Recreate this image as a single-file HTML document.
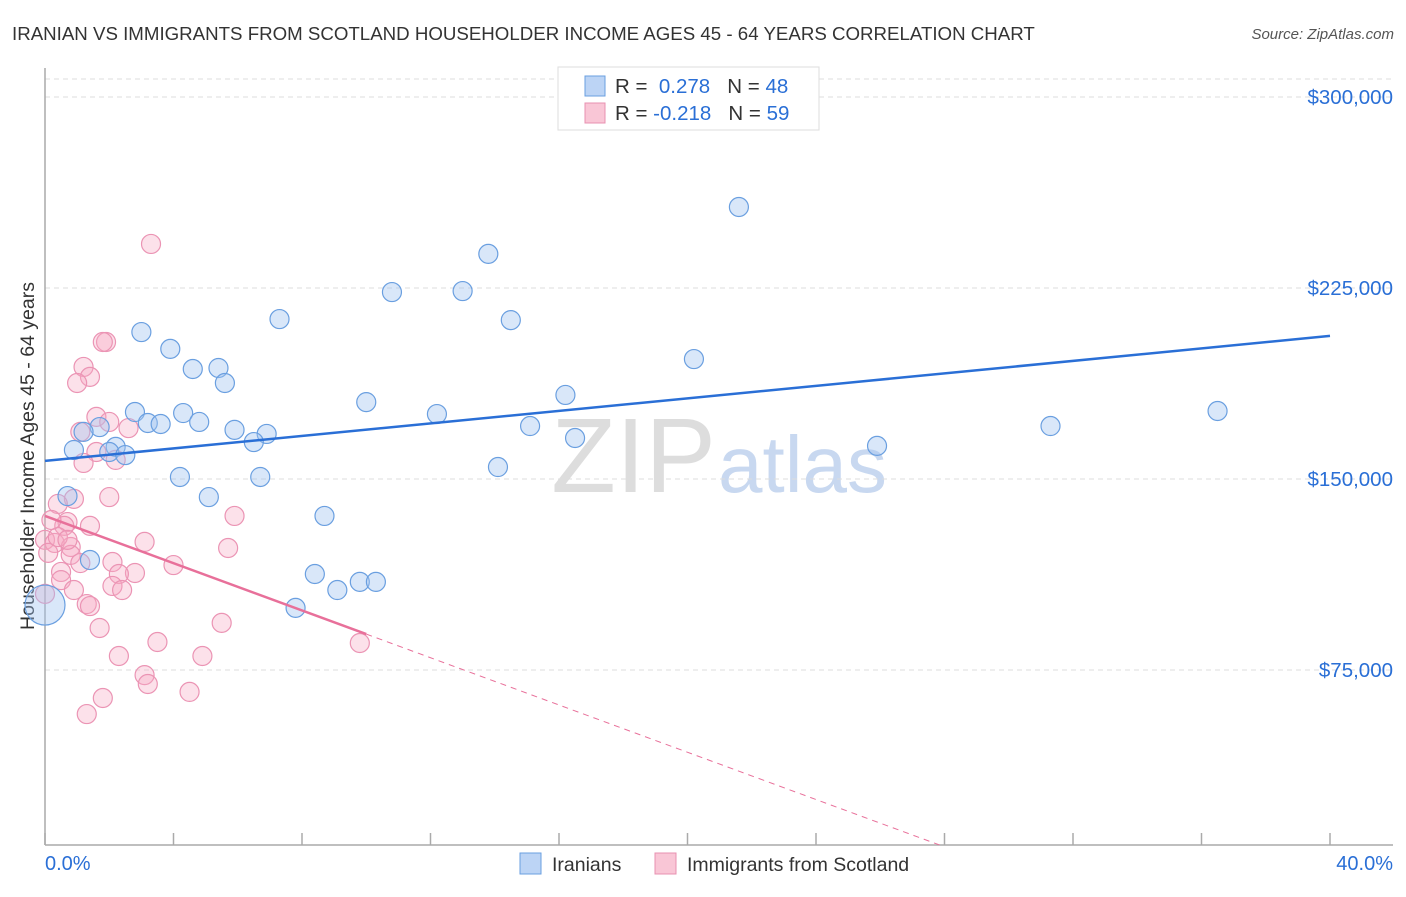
<!DOCTYPE html>
<html><head><meta charset="utf-8"><style>
body{margin:0;background:#fff;font-family:"Liberation Sans",sans-serif;}
svg text{font-family:"Liberation Sans",sans-serif;}
</style></head><body>
<svg id="chart" width="1406" height="892" xmlns="http://www.w3.org/2000/svg">
<text x="12" y="40" font-size="18.7" fill="#333">IRANIAN VS IMMIGRANTS FROM SCOTLAND HOUSEHOLDER INCOME AGES 45 - 64 YEARS CORRELATION CHART</text>
<text x="1394" y="39" font-size="15" fill="#555" font-style="italic" text-anchor="end">Source: ZipAtlas.com</text>
<text x="716" y="492" font-size="106" fill="#ddd" text-anchor="end" font-family="Liberation Serif">ZIP</text>
<text x="718" y="492" font-size="80" fill="#c8d8f0">atlas</text>
<text transform="translate(34,456) rotate(-90)" font-size="19.5" fill="#333" text-anchor="middle">Householder Income Ages 45 - 64 years</text>
<g id="grid"></g><g id="marks"></g>
<g>
<rect x="558" y="67" width="261" height="63" fill="#fff" stroke="#ddd"/>
<rect x="585" y="76" width="20" height="20" fill="#bcd4f5" stroke="#6a9fe0"/>
<text x="615" y="93" font-size="20.5" fill="#333">R = <tspan fill="#2a6fd6">&#160;0.278</tspan>&#160;&#160;&#160;N = <tspan fill="#2a6fd6">48</tspan></text>
<rect x="585" y="103" width="20" height="20" fill="#f9c6d6" stroke="#e890b0"/>
<text x="615" y="120" font-size="20.5" fill="#333">R = <tspan fill="#2a6fd6">-0.218</tspan>&#160;&#160;&#160;N = <tspan fill="#2a6fd6">59</tspan></text>
</g>
<g>
<rect x="520" y="853" width="21" height="21" fill="#bcd4f5" stroke="#6a9fe0"/>
<text x="552" y="871" font-size="19.5" fill="#333">Iranians</text>
<rect x="655" y="853" width="21" height="21" fill="#f9c6d6" stroke="#e890b0"/>
<text x="687" y="871" font-size="19.5" fill="#333">Immigrants from Scotland</text>
</g>
</svg>
<script>
const yTicks=[75000,150000,225000,300000];
const yTickLabels=["$75,000","$150,000","$225,000","$300,000"];
const xLabels=["0.0%","40.0%"];
const blueX=[21.6,13.8,10.8,13.0,7.3,14.5,3.0,3.9,20.2,4.6,5.4,5.6,10.0,2.8,4.3,12.2,36.5,16.2,3.2,3.6,4.8,1.7,15.1,31.3,5.9,1.2,6.9,16.5,6.5,2.2,25.9,0.9,2.0,2.5,14.1,4.2,6.7,5.1,0.7,8.7,1.4,8.4,9.8,10.3,9.1,7.8,0.0];
const blueY=[256800,238400,223400,223800,212800,212400,207700,201100,197100,193200,193600,187700,180200,176300,175900,175500,176700,183000,172000,171600,172400,170400,170800,170800,169300,168500,167700,166100,164500,162600,163000,161400,160600,159400,154700,150800,150800,142900,143300,135500,118200,112700,109600,109600,106400,99400,100500];
const pinkX=[3.3,1.9,1.8,1.2,1.4,1.0,1.6,2.0,1.1,2.6,1.6,2.2,1.2,2.0,0.9,0.4,5.9,0.7,1.4,0.6,0.0,0.3,3.1,5.7,0.8,0.1,0.8,2.1,1.1,4.0,0.5,2.8,2.3,0.5,2.1,2.4,0.9,1.3,1.4,5.5,1.7,3.5,9.8,2.3,4.9,3.1,3.2,4.5,1.8,1.3,0.0,0.4,0.7,0.2];
const pinkY=[242300,203800,203800,194000,190100,187700,174400,172400,168500,170000,160600,157500,156300,142900,142200,140200,135500,133100,131600,131600,126100,124900,125300,122900,123300,121000,120200,117400,117000,116200,113500,113100,112700,110300,108000,106400,106400,100900,100100,93500,91500,86000,85600,80500,80500,73000,69500,66400,64000,57700,104900,127200,126100,133900];
const blueTrend=[157100,206200];
const pinkTrend=[135500,-4640];
const NS="http://www.w3.org/2000/svg";
const xs=v=>45+v/40*1285;
const ys=v=>861-v/75000*191;
function mk(t,a,p){const e=document.createElementNS(NS,t);for(const k in a)e.setAttribute(k,a[k]);p.appendChild(e);return e;}
const g=document.getElementById('grid'),m=document.getElementById('marks');
let e=mk('line',{x1:45,y1:79,x2:1393,y2:79,stroke:'#ddd','stroke-dasharray':'5,4'},g);


yTicks.forEach((t,i)=>{
 let l=mk('line',{x1:45,y1:ys(t),x2:1393,y2:ys(t),stroke:'#ddd','stroke-dasharray':'5,4'},g);
 
 
 let tx=mk('text',{x:1393,y:ys(t)+7,'font-size':20.5,fill:'#2a6fd6','text-anchor':'end'},g);
 tx.textContent=yTickLabels[i];
 
 
});
e=mk('line',{x1:45,y1:68,x2:45,y2:845,stroke:'#aaa','stroke-width':1.5},g);


e=mk('line',{x1:45,y1:845,x2:1393,y2:845,stroke:'#aaa','stroke-width':1.5},g);


for(let i=0;i<=10;i++){let t=mk('line',{x1:xs(i*4),y1:833,x2:xs(i*4),y2:845,stroke:'#aaa','stroke-width':1.5},g);
 
 }
e=mk('text',{x:45,y:870,'font-size':20,fill:'#2a6fd6'},g);e.textContent=xLabels[0];


e=mk('text',{x:1393,y:870,'font-size':20,fill:'#2a6fd6','text-anchor':'end'},g);e.textContent=xLabels[1];


pinkX.forEach((x,i)=>{let c=mk('circle',{cx:xs(x),cy:ys(pinkY[i]),r:9.5,fill:'rgba(245,170,195,0.35)',stroke:'#eb94b4','stroke-width':1.2},m);
 
 });
blueX.forEach((x,i)=>{let c=mk('circle',{cx:xs(x),cy:ys(blueY[i]),r:i==blueX.length-1?20:9.5,fill:'rgba(160,195,240,0.4)',stroke:'#6a9fe0','stroke-width':1.2},m);
 
 });
e=mk('line',{x1:xs(0),y1:ys(blueTrend[0]),x2:xs(40),y2:ys(blueTrend[1]),stroke:'#2a6fd6','stroke-width':2.5},m);


const pv=x=>pinkTrend[0]+pinkTrend[1]*x;
e=mk('line',{x1:xs(0),y1:ys(pv(0)),x2:xs(10),y2:ys(pv(10)),stroke:'#e8709a','stroke-width':2.5},m);


const xEnd=(6300-pinkTrend[0])/pinkTrend[1];
e=mk('line',{x1:xs(10),y1:ys(pv(10)),x2:xs(xEnd),y2:ys(pv(xEnd)),stroke:'#e8709a','stroke-width':1,'stroke-dasharray':'6,5'},m);


</script>
</body></html>
